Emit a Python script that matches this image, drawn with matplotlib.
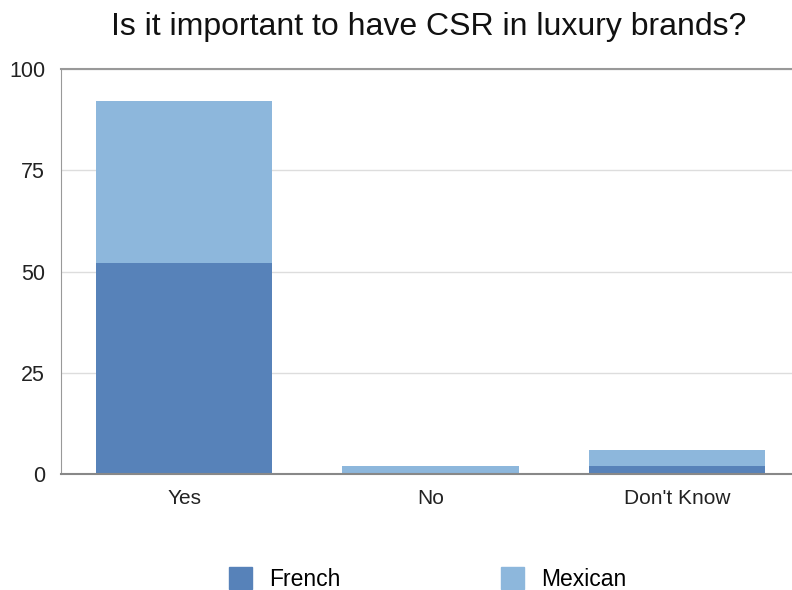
import matplotlib
matplotlib.use("Agg")
import matplotlib.pyplot as plt
from matplotlib.patches import Patch

categories = ["Yes", "No", "Don't Know"]
french = [52, 0, 2]
mexican = [40, 2, 4]
series_names = ["French", "Mexican"]
yticks = [0, 25, 50, 75, 100]

plt.rcParams['font.family'] = ['Liberation Sans', 'DejaVu Sans']
c_fr = "#5782B9"
c_mx = "#8DB7DC"

fig = plt.figure(figsize=(7.92, 5.90), dpi=100)
ax = fig.add_axes([61/792, 1-474/590, (800-61)/792, (474-69)/590])
x = list(range(len(categories)))
ax.bar(x, french, width=0.715, color=c_fr, zorder=3)
ax.bar(x, mexican, width=0.715, bottom=french, color=c_mx, zorder=3)
ax.set_xlim(-0.5, 2.5)
ax.set_ylim(0, 100)
ax.set_yticks(yticks)
ax.set_xticks(x)
ax.set_xticklabels(categories, fontsize=15)
ax.tick_params(axis='y', labelsize=15.5, length=0, pad=11.5, colors="#222222")
ax.tick_params(axis='x', length=0, pad=10.5, colors="#222222")
ax.yaxis.grid(True, color="#dddddd", linewidth=1, zorder=0)
for s in ['right']:
    ax.spines[s].set_visible(False)
ax.spines['left'].set_color("#999999")
ax.spines['bottom'].set_color("#888888")
ax.spines['bottom'].set_linewidth(1.5)
ax.spines['top'].set_color("#999999")
ax.spines['top'].set_linewidth(1.5)
ax.spines['bottom'].set_zorder(4)

fig.text(428.5/792, 1-27/590, "Is it important to have CSR in luxury brands?",
         ha='center', va='center', fontsize=23, color="#111111")

handles = [Patch(color=c_fr), Patch(color=c_mx)]
fig.legend(handles, series_names, loc='center', bbox_to_anchor=(427.5/792, 1-579/590),
           ncol=2, frameon=False, fontsize=16.5, handlelength=1.0, handleheight=1.05,
           columnspacing=7.0, handletextpad=0.75)

fig.savefig("out.png", dpi=100)
